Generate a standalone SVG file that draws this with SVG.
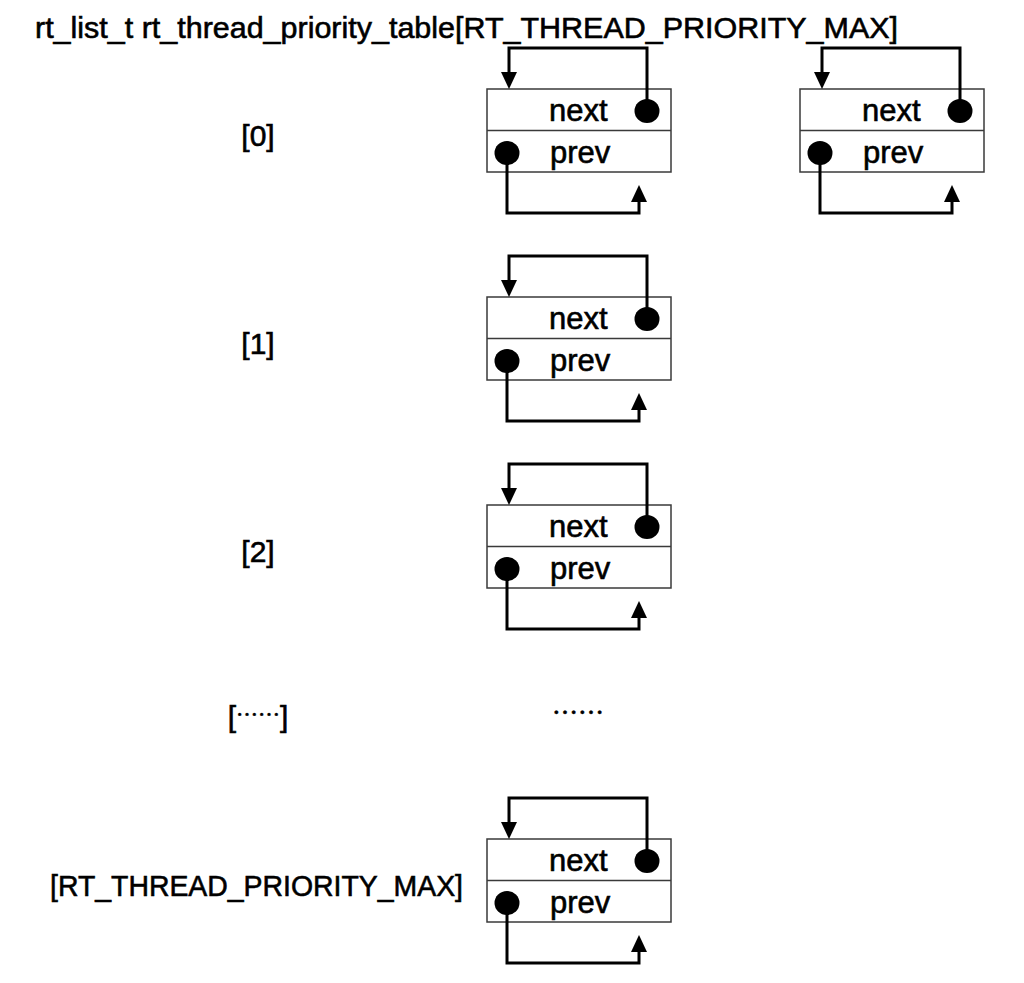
<svg xmlns="http://www.w3.org/2000/svg" width="1024" height="983" viewBox="0 0 1024 983">
<style>
  .t { font-family: "Liberation Sans", Arial, sans-serif; font-size: 30px; fill: #000; stroke: #000; stroke-width: 0.6; }
  .f { font-family: "Liberation Sans", Arial, sans-serif; font-size: 31px; fill: #000; stroke: #000; stroke-width: 0.6; }
  .cjk { font-family: "Noto Sans CJK SC", sans-serif; fill: #000; }
  .box { fill: #fff; stroke: #3a3a3a; stroke-width: 1.5; }
  .div { stroke: #3a3a3a; stroke-width: 1.5; }
  .dot { fill: #000; }
  .wire { fill: none; stroke: #000; stroke-width: 3; }
</style>
<defs>
  <marker id="arr" markerWidth="17" markerHeight="16" refX="7" refY="8" orient="auto" markerUnits="userSpaceOnUse">
    <path d="M0,0 L17,8 L0,16 z" fill="#000"/>
  </marker>
  <g id="node">
    <rect class="box" x="0" y="0" width="184" height="83"/>
    <line class="div" x1="0" y1="41.5" x2="184" y2="41.5"/>
    <text class="f" x="62" y="32">next</text>
    <text class="f" x="63" y="74">prev</text>
    <ellipse class="dot" cx="160" cy="22" rx="12.5" ry="12"/>
    <ellipse class="dot" cx="20" cy="64" rx="12.5" ry="12"/>
  </g>
</defs>
<rect width="1024" height="983" fill="#fff"/>

<text class="t" x="35" y="38" textLength="863" lengthAdjust="spacingAndGlyphs">rt_list_t rt_thread_priority_table[RT_THREAD_PRIORITY_MAX]</text>

<g id="labels">
  <text class="t" x="258" y="146" text-anchor="middle">[0]</text>
  <text class="t" x="258" y="354" text-anchor="middle">[1]</text>
  <text class="t" x="258" y="562" text-anchor="middle">[2]</text>
  <text class="t" x="258" y="727" text-anchor="middle">[<tspan class="cjk" dy="-5" style="font-size:22px;stroke-width:0.4">……</tspan><tspan dy="5">]</tspan></text>
  <text class="cjk" x="578" y="722" text-anchor="middle" style="font-size:26px;stroke:#000;stroke-width:0.4">……</text>
  <text class="t" x="50" y="896" textLength="413" lengthAdjust="spacingAndGlyphs">[RT_THREAD_PRIORITY_MAX]</text>
</g>

<g id="node-0a"><use href="#node" x="487" y="89"/></g>
<g id="node-0b"><use href="#node" x="800" y="89"/></g>
<g id="node-1"><use href="#node" x="487" y="297"/></g>
<g id="node-2"><use href="#node" x="487" y="505"/></g>
<g id="node-max"><use href="#node" x="487" y="839"/></g>

<g id="connectors">
  <path class="wire" d="M647,111 V48 H509 V79" marker-end="url(#arr)"/>
  <path class="wire" d="M507,153 V213 H639 V195" marker-end="url(#arr)"/>
  <path class="wire" d="M960,111 V48 H822 V79" marker-end="url(#arr)"/>
  <path class="wire" d="M820,153 V213 H952 V195" marker-end="url(#arr)"/>
  <path class="wire" d="M647,319 V256 H509 V287" marker-end="url(#arr)"/>
  <path class="wire" d="M507,361 V421 H639 V403" marker-end="url(#arr)"/>
  <path class="wire" d="M647,527 V464 H509 V495" marker-end="url(#arr)"/>
  <path class="wire" d="M507,569 V629 H639 V611" marker-end="url(#arr)"/>
  <path class="wire" d="M647,861 V798 H509 V829" marker-end="url(#arr)"/>
  <path class="wire" d="M507,903 V963 H639 V945" marker-end="url(#arr)"/>
</g>
</svg>
